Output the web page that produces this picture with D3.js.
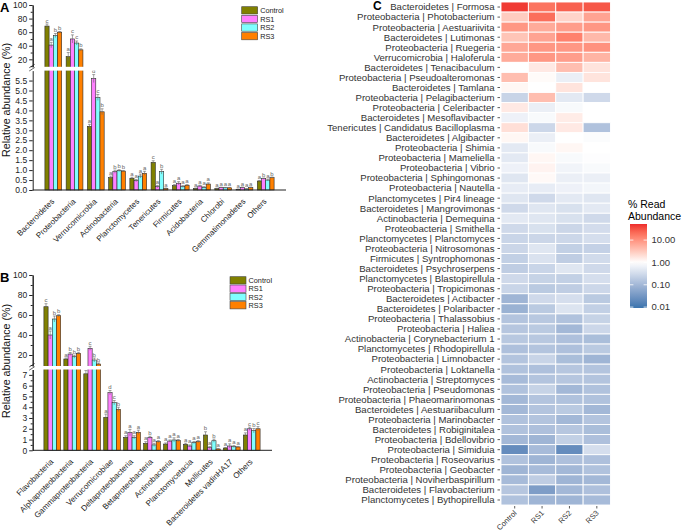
<!DOCTYPE html>
<html>
<head>
<meta charset="utf-8">
<script src="https://cdn.jsdelivr.net/npm/d3@7"></script>
<style>
  body { margin: 0; background: #fff; }
  text { font-family: "Liberation Sans", Arial, sans-serif; }
</style>
</head>
<body>
<script>
// treatments
var groups = ['Control', 'RS1', 'RS2', 'RS3'];
var groupColors = ['#808000', '#ff80ff', '#80ffff', '#ff8000'];

// panel A - phyla
var phylaA = ['Bacteroidetes', 'Proteobacteria', 'Verrucomicrobia', 'Actinobacteria', 'Planctomycetes',
  'Tenericutes', 'Firmicutes', 'Acidobacteria', 'Chlorobi', 'Gemmatimonadetes', 'Others'];
var controlA = [69, 24, 3.2, 0.62, 0.59, 1.39, 0.22, 0.08, 0.07, 0.03, 0.45];
var rs1A = [41, 50, 5.6, 0.92, 0.47, 0.17, 0.34, 0.2, 0.12, 0.12, 0.57];
var rs2A = [55, 44, 4.65, 0.97, 0.70, 0.92, 0.17, 0.13, 0.11, 0.05, 0.50];
var rs3A = [60, 34, 3.93, 0.95, 0.84, 0.08, 0.24, 0.3, 0.11, 0.12, 0.62];
var controlErrA = [3, 6, 0.1, 0.08, 0.05, 0.08, 0.05, 0.02, 0.02, 0.02, 0.03];
var rs1ErrA = [4, 6, 0.2, 0.08, 0.06, 0.06, 0.08, 0.04, 0.02, 0.03, 0.03];
var rs2ErrA = [3, 3, 0.15, 0.05, 0.1, 0.12, 0.05, 0.04, 0.02, 0.02, 0.05];
var rs3ErrA = [1, 1.5, 0.15, 0.03, 0.1, 0.02, 0.03, 0.06, 0.02, 0.03, 0.03];
var controlLetA = ['c', 'a', 'a', 'a', 'a', 'c', 'a', 'a', 'a', 'a', 'a'];
var rs1LetA = ['a', 'c', 'd', 'b', 'a', 'a', 'a', 'a', 'a', 'a', 'b'];
var rs2LetA = ['b', 'c', 'c', 'b', 'a', 'b', 'a', 'a', 'a', 'a', 'a'];
var rs3LetA = ['b', 'b', 'b', 'b', 'a', 'a', 'a', 'a', 'a', 'a', 'b'];
var upTicksA = [20, 40, 60, 80, 100];
var lowTicksA = [0, 0.5, 1, 1.5, 2, 2.5, 3, 3.5, 4, 4.5, 5, 5.5];

// panel B - classes
var classesB = ['Flavobacteria', 'Alphaproteobacteria', 'Gammaproteobacteria', 'Verrucomicrobiae',
  'Deltaproteobacteria', 'Betaproteobacteria', 'Actinobacteria', 'Planctomycetacia', 'Mollicutes',
  'Bacteroidetes vadinHA17', 'Others'];
var controlB = [68.3, 16, 7.1, 3.06, 1.2, 0.65, 0.58, 0.56, 1.42, 0.21, 1.42];
var rs1B = [40, 21, 26.7, 5.35, 1.64, 1.2, 0.86, 0.4, 0.24, 0.4, 2.0];
var rs2B = [56, 18.3, 15, 4.42, 1.2, 0.5, 0.96, 0.71, 0.89, 0.34, 1.82];
var rs3B = [59.3, 21.7, 11, 3.8, 1.67, 0.8, 0.9, 0.8, 0.12, 0.31, 2.0];
var controlErrB = [3, 1, 0.3, 0.3, 0.15, 0.15, 0.1, 0.1, 0.3, 0.05, 0.2];
var rs1ErrB = [4, 1.5, 2, 0.2, 0.3, 0.1, 0.1, 0.1, 0.1, 0.2, 0.15];
var rs2ErrB = [3, 1.5, 2, 0.2, 0.15, 0.15, 0.2, 0.1, 0.15, 0.1, 0.2];
var rs3ErrB = [1, 1, 1, 0.2, 0.2, 0.1, 0.1, 0.1, 0.05, 0.05, 0.2];
var controlLetB = ['c', 'a', 'a', 'a', 'a', 'a', 'a', 'a', 'b', 'a', 'a'];
var rs1LetB = ['a', 'b', 'c', 'd', 'a', 'b', 'a', 'a', 'a', 'a', 'c'];
var rs2LetB = ['b', 'b', 'b', 'c', 'a', 'a', 'a', 'a', 'b', 'a', 'b'];
var rs3LetB = ['b', 'b', 'b', 'b', 'a', 'a', 'a', 'a', 'a', 'a', 'c'];
var upTicksB = [20, 40, 60, 80, 100];
var lowTicksB = [0, 1, 2, 3, 4, 5, 6, 7];

// panel C - genera heatmap (% read abundance)
var genera = ['Bacteroidetes | Formosa', 'Proteobacteria | Photobacterium', 'Proteobacteria | Aestuariivita',
  'Bacteroidetes | Lutimonas', 'Proteobacteria | Ruegeria', 'Verrucomicrobia | Haloferula',
  'Bacteroidetes | Tenacibaculum', 'Proteobacteria | Pseudoalteromonas', 'Bacteroidetes | Tamlana',
  'Proteobacteria | Pelagibacterium', 'Proteobacteria | Celeribacter', 'Bacteroidetes | Mesoflavibacter',
  'Tenericutes | Candidatus Bacilloplasma', 'Bacteroidetes | Algibacter', 'Proteobacteria | Shimia',
  'Proteobacteria | Mameliella', 'Proteobacteria | Vibrio', 'Proteobacteria | Sphingomonas',
  'Proteobacteria | Nautella', 'Planctomycetes | Pir4 lineage', 'Bacteroidetes | Mangrovimonas',
  'Actinobacteria | Demequina', 'Proteobacteria | Smithella', 'Planctomycetes | Planctomyces',
  'Proteobacteria | Nitrosomonas', 'Firmicutes | Syntrophomonas', 'Bacteroidetes | Psychroserpens',
  'Planctomycetes | Blastopirellula', 'Proteobacteria | Tropicimonas', 'Bacteroidetes | Actibacter',
  'Bacteroidetes | Polaribacter', 'Proteobacteria | Thalassobius', 'Proteobacteria | Haliea',
  'Actinobacteria | Corynebacterium 1', 'Planctomycetes | Rhodopirellula', 'Proteobacteria | Limnobacter',
  'Proteobacteria | Loktanella', 'Actinobacteria | Streptomyces', 'Proteobacteria | Pseudomonas',
  'Proteobacteria | Phaeomarinomonas', 'Bacteroidetes | Aestuariibaculum', 'Proteobacteria | Marinobacter',
  'Bacteroidetes | Robiginitalea', 'Proteobacteria | Bdellovibrio', 'Proteobacteria | Simiduia',
  'Proteobacteria | Roseovarius', 'Proteobacteria | Geobacter', 'Proteobacteria | Noviherbaspirillum',
  'Bacteroidetes | Flavobacterium', 'Planctomycetes | Bythopirellula'];
var controlHM = [45, 3, 9, 3.5, 6.5, 6, 1.0, 4, 1.2, 0.25, 1.6, 0.65, 2, 1.2, 0.5, 0.5, 0.65, 0.45, 0.55, 0.45,
  0.3, 0.5, 0.3, 0.26, 0.27, 0.22, 0.2, 0.3, 0.26, 0.09, 0.08, 0.15, 0.16, 0.17, 0.13, 0.15, 0.14, 0.11, 0.14, 0.1,
  0.1, 0.14, 0.14, 0.1, 0.022, 0.14, 0.09, 0.11, 0.16, 0.14];
var rs1HM = [18, 20, 6, 7, 9, 9, 1.6, 1.1, 1.0, 4, 0.6, 0.85, 0.28, 0.6, 0.85, 1.2, 1.3, 1.15, 0.55, 0.3,
  0.45, 0.45, 0.38, 0.27, 0.45, 0.4, 0.26, 0.24, 0.18, 0.3, 0.18, 0.17, 0.18, 0.17, 0.15, 0.25, 0.13, 0.15, 0.24, 0.15,
  0.15, 0.15, 0.13, 0.09, 0.11, 0.09, 0.11, 0.2, 0.04, 0.09];
var rs2HM = [25, 2.5, 8, 14, 9, 8, 4, 0.6, 1.8, 0.5, 0.85, 1.5, 1.6, 1.0, 1.2, 0.85, 0.7, 0.6, 0.65, 0.5,
  0.38, 0.38, 0.27, 0.28, 0.22, 0.2, 0.45, 0.22, 0.2, 0.35, 0.42, 0.14, 0.1, 0.13, 0.13, 0.12, 0.16, 0.16, 0.1, 0.14,
  0.18, 0.1, 0.16, 0.22, 0.022, 0.13, 0.1, 0.09, 0.1, 0.09];
var rs3HM = [30, 7, 9, 4.5, 10, 5, 1.8, 1.8, 1.0, 0.3, 1.0, 1.0, 0.14, 0.9, 1.0, 0.95, 0.85, 0.6, 0.75, 0.45,
  0.5, 0.3, 0.33, 0.35, 0.23, 0.32, 0.3, 0.35, 0.28, 0.18, 0.22, 0.24, 0.28, 0.12, 0.18, 0.09, 0.15, 0.15, 0.14, 0.14,
  0.1, 0.15, 0.12, 0.13, 0.35, 0.13, 0.14, 0.1, 0.13, 0.11];
var legendTicks = [10, 1, 0.1, 0.01];

var svg = d3.select('body').append('svg')
  .attr('width', 685)
  .attr('height', 531);

// bar panel with a broken y axis
var drawPanel = function(p) {
  var g = svg.append('g');
  var yLow = d3.scaleLinear().domain([0, p.lowMax]).range([p.axisY, p.lowTop]);
  var yUp = d3.scaleLinear().domain([p.upMin, 100]).range([p.upBottom, p.top]);
  var yv = function(v) { return v <= p.lowMax ? yLow(v) : yUp(v); };
  var x = d3.scalePoint().domain(p.cats).range(p.xRange);
  var bw = 4.2;

  var rows = [];
  p.cats.forEach(function(c, i) {
    p.series.forEach(function(s, j) {
      rows.push({ cat: c, j: j, v: s[i], e: p.errs[j][i], l: p.letters[j][i] });
    });
  });

  g.selectAll('rect.bar').data(rows).enter().append('rect')
    .attr('class', 'bar')
    .attr('x', function(d) { return x(d.cat) - 2 * bw + d.j * bw; })
    .attr('y', function(d) { return yv(d.v); })
    .attr('width', bw)
    .attr('height', function(d) { return p.axisY - yv(d.v); })
    .attr('fill', function(d) { return groupColors[d.j]; })
    .attr('stroke', '#2a2a2a')
    .attr('stroke-width', 0.6);

  // error bars
  var eb = g.selectAll('g.err').data(rows).enter().append('g').attr('class', 'err')
    .attr('stroke', '#666').attr('stroke-width', 0.6);
  eb.append('line')
    .attr('x1', function(d) { return x(d.cat) - 1.5 * bw + d.j * bw; })
    .attr('x2', function(d) { return x(d.cat) - 1.5 * bw + d.j * bw; })
    .attr('y1', function(d) { return yv(d.v + d.e); })
    .attr('y2', function(d) { return yv(Math.max(d.v - d.e, 0)); });
  eb.append('line')
    .attr('x1', function(d) { return x(d.cat) - 1.5 * bw + d.j * bw - 1.5; })
    .attr('x2', function(d) { return x(d.cat) - 1.5 * bw + d.j * bw + 1.5; })
    .attr('y1', function(d) { return yv(d.v + d.e); })
    .attr('y2', function(d) { return yv(d.v + d.e); });

  g.selectAll('text.let').data(rows).enter().append('text')
    .attr('class', 'let')
    .attr('x', function(d) { return x(d.cat) - 1.5 * bw + d.j * bw; })
    .attr('y', function(d) { return yv(d.v + d.e) - 1.5; })
    .attr('text-anchor', 'middle')
    .attr('font-size', 6)
    .attr('fill', '#666')
    .text(function(d) { return d.l; });

  // gap of the broken axis
  g.append('rect')
    .attr('x', p.axisX - 6).attr('y', p.upBottom)
    .attr('width', p.xEnd - p.axisX + 8).attr('height', p.lowTop - p.upBottom)
    .attr('fill', '#fff');

  var styleAxis = function(sel) {
    sel.attr('font-family', '"Liberation Sans", Arial, sans-serif').attr('font-size', 8.5);
    sel.selectAll('path, line').attr('stroke', '#222');
    sel.selectAll('text').attr('fill', '#222');
  };
  g.append('g').attr('transform', 'translate(' + p.axisX + ',0)')
    .call(d3.axisLeft(yUp).tickValues(p.upTicks).tickSize(3.5).tickSizeOuter(0).tickPadding(2))
    .call(styleAxis);
  g.append('g').attr('transform', 'translate(' + p.axisX + ',0)')
    .call(d3.axisLeft(yUp).tickValues(p.upMinor).tickSize(2).tickSizeOuter(0).tickFormat(''))
    .call(styleAxis);
  g.append('g').attr('transform', 'translate(' + p.axisX + ',0)')
    .call(d3.axisLeft(yLow).tickValues(p.lowTicks).tickSize(3.5).tickSizeOuter(0).tickPadding(2)
      .tickFormat(d3.format(p.lowFormat)))
    .call(styleAxis);
  if (p.lowMinor) {
    g.append('g').attr('transform', 'translate(' + p.axisX + ',0)')
      .call(d3.axisLeft(yLow).tickValues(p.lowMinor).tickSize(2).tickSizeOuter(0).tickFormat(''))
      .call(styleAxis);
  }

  // break marks
  [0, 3.2].forEach(function(o) {
    g.append('line')
      .attr('x1', p.axisX - 3.5).attr('y1', p.upBottom + 1 + o)
      .attr('x2', p.axisX + 2).attr('y2', p.upBottom - 2.5 + o)
      .attr('stroke', '#222').attr('stroke-width', 0.7);
  });

  // x axis
  g.append('line')
    .attr('x1', p.axisX).attr('x2', p.xEnd)
    .attr('y1', p.axisY).attr('y2', p.axisY)
    .attr('stroke', '#222').attr('stroke-width', 1);

  g.selectAll('text.cat').data(p.cats).enter().append('text')
    .attr('class', 'cat')
    .attr('transform', function(d) { return 'translate(' + (x(d) + 1.5) + ',' + (p.axisY + 12) + ') rotate(-45)'; })
    .attr('text-anchor', 'end')
    .attr('font-size', 8)
    .attr('fill', '#222')
    .text(function(d) { return d; });

  g.append('text')
    .attr('transform', 'translate(10,' + p.labelY + ') rotate(-90)')
    .attr('text-anchor', 'middle')
    .attr('font-size', 10.7)
    .attr('fill', '#111')
    .text('Relative abundance (%)');

  g.append('text')
    .attr('x', 0).attr('y', p.letterY)
    .attr('font-size', 13).attr('font-weight', 'bold')
    .text(p.letter);

  // legend
  var lg = g.selectAll('g.leg').data(groups).enter().append('g').attr('class', 'leg')
    .attr('transform', function(d, i) { return 'translate(' + p.legX + ',' + (p.legY + i * p.legStep) + ')'; });
  lg.append('rect')
    .attr('width', 16).attr('height', 7.3)
    .attr('fill', function(d, i) { return groupColors[i]; })
    .attr('stroke', '#444').attr('stroke-width', 0.6);
  lg.append('text')
    .attr('x', 18.5).attr('y', 6.4)
    .attr('font-size', 7.3)
    .attr('fill', '#222')
    .text(function(d) { return d; });
};

drawPanel({
  cats: phylaA, series: [controlA, rs1A, rs2A, rs3A],
  errs: [controlErrA, rs1ErrA, rs2ErrA, rs3ErrA],
  letters: [controlLetA, rs1LetA, rs2LetA, rs3LetA],
  axisX: 32.7, xEnd: 286, xRange: [53.3, 265.7], axisY: 190,
  lowMax: 6, lowTop: 70.6, upMin: 9, upBottom: 66.8, top: 5,
  upTicks: upTicksA, upMinor: [10, 30, 50, 70, 90], lowTicks: lowTicksA, lowFormat: '.1f',
  labelY: 100, letter: 'A', letterY: 12,
  legX: 241.7, legY: 6.7, legStep: 8.6
});

drawPanel({
  cats: classesB, series: [controlB, rs1B, rs2B, rs3B],
  errs: [controlErrB, rs1ErrB, rs2ErrB, rs3ErrB],
  letters: [controlLetB, rs1LetB, rs2LetB, rs3LetB],
  axisX: 32.7, xEnd: 272, xRange: [52.3, 251.7], axisY: 450.3,
  lowMax: 7.5, lowTop: 369.5, upMin: 9, upBottom: 366, top: 275,
  upTicks: upTicksB, upMinor: [10, 30, 50, 70, 90], lowTicks: lowTicksB, lowFormat: 'd',
  lowMinor: [0.5, 1.5, 2.5, 3.5, 4.5, 5.5, 6.5],
  labelY: 361, letter: 'B', letterY: 282,
  legX: 230, legY: 276.7, legStep: 8.3
});

// heatmap
var hm = svg.append('g');
var hx = d3.scaleBand().domain(groups).range([501, 610.5]);
var hy = d3.scaleBand().domain(genera).range([2, 505]);
var blueEnd = '#3a74ae', redEnd = '#ee2c2c';
var color = d3.scaleLinear().domain([-2.04, 0, 1.72])
  .range([blueEnd, '#ffffff', redEnd])
  .interpolate(d3.interpolateLab)
  .clamp(true);

var seriesHM = [controlHM, rs1HM, rs2HM, rs3HM];
var cells = [];
genera.forEach(function(gname, i) {
  groups.forEach(function(grp, j) {
    cells.push({ g: gname, grp: grp, v: seriesHM[j][i] });
  });
});

hm.selectAll('rect.cell').data(cells).enter().append('rect')
  .attr('class', 'cell')
  .attr('x', function(d) { return hx(d.grp); })
  .attr('y', function(d) { return hy(d.g); })
  .attr('width', hx.bandwidth())
  .attr('height', hy.bandwidth())
  .attr('fill', function(d) { return color(Math.log10(d.v)); })
  .attr('stroke', '#fff')
  .attr('stroke-width', 0.9);

hm.selectAll('text.gen').data(genera).enter().append('text')
  .attr('class', 'gen')
  .attr('x', 494.5)
  .attr('y', function(d) { return hy(d) + hy.bandwidth() / 2; })
  .attr('dy', '0.35em')
  .attr('text-anchor', 'end')
  .attr('font-size', 9.6)
  .attr('fill', '#333')
  .text(function(d) { return d; });

hm.selectAll('line.ytick').data(genera).enter().append('line')
  .attr('class', 'ytick')
  .attr('x1', 497.5).attr('x2', 500)
  .attr('y1', function(d) { return hy(d) + hy.bandwidth() / 2; })
  .attr('y2', function(d) { return hy(d) + hy.bandwidth() / 2; })
  .attr('stroke', '#333').attr('stroke-width', 0.8);

hm.selectAll('line.xtick').data(groups).enter().append('line')
  .attr('class', 'xtick')
  .attr('x1', function(d) { return hx(d) + hx.bandwidth() / 2; })
  .attr('x2', function(d) { return hx(d) + hx.bandwidth() / 2; })
  .attr('y1', 506).attr('y2', 508.5)
  .attr('stroke', '#333').attr('stroke-width', 0.8);

hm.selectAll('text.grp').data(groups).enter().append('text')
  .attr('class', 'grp')
  .attr('transform', function(d) { return 'translate(' + (hx(d) + hx.bandwidth() / 2 + 2.5) + ',513.5) rotate(-45)'; })
  .attr('text-anchor', 'end')
  .attr('font-size', 7.6)
  .attr('fill', '#333')
  .text(function(d) { return d; });

hm.append('text')
  .attr('x', 373).attr('y', 10)
  .attr('font-size', 12).attr('font-weight', 'bold')
  .text('C');

// colour legend
var legY = d3.scaleLinear().domain([-2.04, 1.72]).range([308, 224]);
var defs = svg.append('defs');
var grad = defs.append('linearGradient').attr('id', 'hmgrad')
  .attr('x1', 0).attr('y1', 1).attr('x2', 0).attr('y2', 0);
d3.range(0, 1.0001, 0.05).forEach(function(t) {
  grad.append('stop')
    .attr('offset', t)
    .attr('stop-color', color(-2.04 + t * (1.72 + 2.04)));
});
hm.append('rect')
  .attr('x', 630).attr('y', 224).attr('width', 17).attr('height', 84)
  .attr('fill', 'url(#hmgrad)');
legendTicks.forEach(function(t) {
  var yy = legY(Math.log10(t));
  hm.append('line').attr('x1', 630).attr('x2', 633.4).attr('y1', yy).attr('y2', yy)
    .attr('stroke', '#fff').attr('stroke-width', 0.8);
  hm.append('line').attr('x1', 643.6).attr('x2', 647).attr('y1', yy).attr('y2', yy)
    .attr('stroke', '#fff').attr('stroke-width', 0.8);
  hm.append('text')
    .attr('x', 651.5).attr('y', yy).attr('dy', '0.35em')
    .attr('font-size', 9.5).attr('fill', '#333')
    .text(d3.format('.2f')(t));
});
hm.append('text').attr('x', 628).attr('y', 208).attr('font-size', 10.5).text('% Read');
hm.append('text').attr('x', 628).attr('y', 220).attr('font-size', 10.5).text('Abundance');
</script>
</body>
</html>
